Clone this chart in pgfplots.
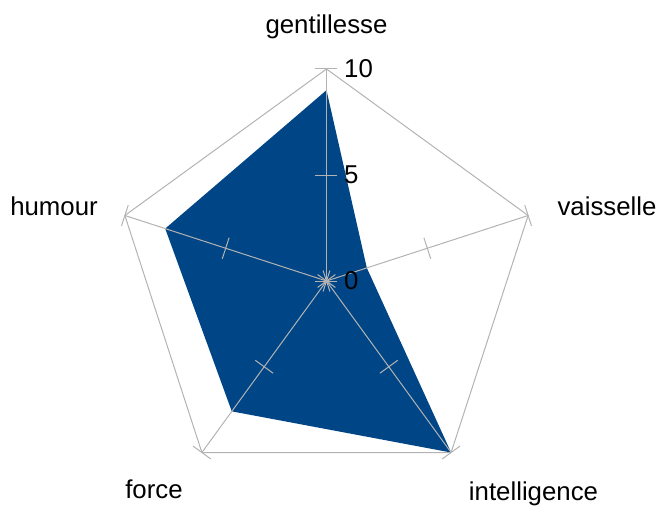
\documentclass[border=0pt]{standalone}
\usepackage{fontspec}
\setmainfont{Liberation Sans}
\usepackage{pgfplots}
\pgfplotsset{compat=1.18}
\usepgfplotslibrary{polar}
\usetikzlibrary{calc}
\definecolor{fillblue}{HTML}{004586}
\definecolor{gridgray}{HTML}{B3B3B3}
\newcommand{\lbl}{\fontsize{25.8}{30}\selectfont}
\begin{document}
\begin{tikzpicture}
\useasboundingbox (-326.5pt,-225pt) rectangle (334.5pt,281pt);
\begin{polaraxis}[
  at={(0,0)}, anchor=origin,
  scale only axis, width=424pt, height=424pt,
  xmin=0, xmax=360, ymin=0, ymax=10,
  hide axis, clip=false,
]
\addplot[fill=fillblue, draw=none, no marks] coordinates {(90,9) (18,2) (-54,10) (-126,7.6) (162,8) (90,9)};
\addplot[gridgray, line width=1pt, no marks] coordinates {(90,10) (18,10) (-54,10) (-126,10) (162,10) (90,10)};
\pgfplotsinvokeforeach{90,18,-54,-126,162}{
  \addplot[gridgray, line width=1pt, no marks] coordinates {(#1,0) (#1,10)};
  \draw[gridgray, line width=1pt] ($(axis cs:#1,0)!11pt!90:(axis cs:#1,10)$) -- ($(axis cs:#1,0)!11pt!-90:(axis cs:#1,10)$);
  \draw[gridgray, line width=1pt] ($(axis cs:#1,5)!11pt!90:(axis cs:#1,10)$) -- ($(axis cs:#1,5)!11pt!-90:(axis cs:#1,10)$);
  \draw[gridgray, line width=1pt] ($(axis cs:#1,10)!11pt!90:(axis cs:#1,0)$) -- ($(axis cs:#1,10)!11pt!-90:(axis cs:#1,0)$);
}
\end{polaraxis}
\node[anchor=base, inner sep=0, font=\lbl] at (0pt,247.7pt) {gentillesse};
\node[anchor=base, inner sep=0, font=\lbl] at (-272.5pt,65.3pt) {humour};
\node[anchor=base, inner sep=0, font=\lbl] at (280.5pt,65.3pt) {vaisselle};
\node[anchor=base, inner sep=0, font=\lbl] at (-172.5pt,-217.5pt) {force};
\node[anchor=base, inner sep=0, font=\lbl] at (207pt,-219.5pt) {intelligence};
\node[anchor=base west, inner sep=0, font=\lbl] at (17.5pt,203.5pt) {10};
\node[anchor=base west, inner sep=0, font=\lbl] at (17.5pt,97.5pt) {5};
\node[anchor=base west, inner sep=0, font=\lbl] at (17.5pt,-8.5pt) {0};
\end{tikzpicture}
\end{document}
